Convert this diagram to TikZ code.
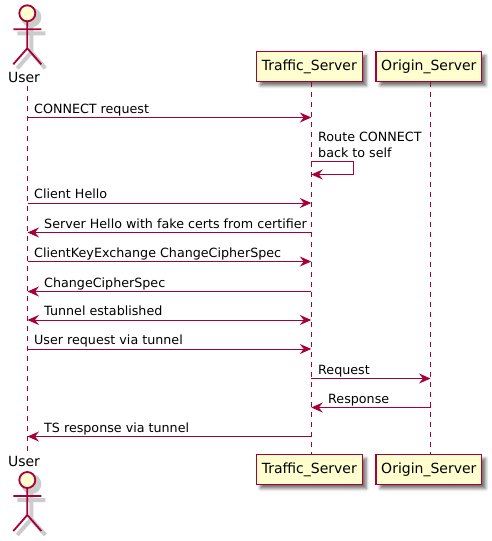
\documentclass[tikz,border=0pt]{standalone}
\usepackage{fontspec}
\setmainfont{DejaVu Sans}
\usetikzlibrary{positioning, calc, shadows.blur, arrows.meta}
\definecolor{umlred}{HTML}{A80036}
\definecolor{umlfill}{HTML}{FEFECE}

\tikzset{
  actor/.pic={
    \draw[black!20, line width=4pt, fill=black!20] (4,-15) circle (8);
    \draw[black!20, line width=4pt] (4,-7) -- (4,20) (-10,1) -- (18,1) (-10,36) -- (4,20) -- (18,36);
    \draw[actorline, fill=umlfill] (0,-19) circle (8);
    \draw[actorline] (0,-11) -- (0,16) (-14,-3) -- (14,-3) (-14,32) -- (0,16) -- (14,32);
  }
}

\begin{document}
\begin{tikzpicture}[
  x=1pt, y=-1pt,
  font=\fontsize{12.7}{16}\selectfont,
  actorline/.style={draw=umlred, line width=1.8pt},
  participant/.style={rectangle, draw=umlred, line width=1.3pt, fill=umlfill, minimum height=30pt, minimum width=106pt, inner sep=0pt,
    font=\fontsize{14}{16}\selectfont,
    blur shadow={shadow xshift=4pt, shadow yshift=-4pt, shadow blur radius=3pt, shadow opacity=55}},
  origin_part/.style={participant, minimum width=105.5pt},
  lifeline/.style={draw=umlred, line width=1pt, dash pattern=on 5pt off 5pt},
  msg/.style={draw=umlred, line width=1pt, -{Stealth[length=11.5pt, width=10pt, inset=4pt]}},
  msgboth/.style={msg, {Stealth[length=11.5pt, width=10pt, inset=4pt]}-{Stealth[length=11.5pt, width=10pt, inset=4pt]}},
  actorlabel/.style={inner sep=0pt, font=\fontsize{14}{16}\selectfont},
  label/.style={anchor=base west, inner sep=0pt}
]
    \useasboundingbox (0,0) rectangle (491,541);

    % Participants
    \node[participant] (ts) at (309.3,66.7) {Traffic\_Server};
    \node[origin_part, right=12.5pt of ts] (os) {Origin\_Server};
    \node[participant, below=371.5pt of ts] (tsb) {Traffic\_Server};
    \node[origin_part, below=371.5pt of os] (osb) {Origin\_Server};

    % Actors
    \pic at (27.3,32.3) {actor};
    \node[actorlabel] (user) at (24,77.5) {User};
    \pic at (27.3,499) {actor};
    \node[actorlabel] (userb) at (24,461.5) {User};

    % Lifelines
    \coordinate (utop) at (27.5,86);
    \coordinate (ubot) at (27.5,451);
    \coordinate (ttop) at ([xshift=2pt]ts.south);
    \coordinate (tbot) at ([xshift=2pt]tsb.north);
    \coordinate (otop) at ([xshift=1.7pt]os.south);
    \coordinate (obot) at ([xshift=1.7pt]osb.north);
    \draw[lifeline] (utop) -- (ubot);
    \draw[lifeline] (ttop) -- (tbot);
    \draw[lifeline] (otop) -- (obot);

    % Message rows
    \coordinate (r1) at (0,117.5);
    \coordinate (r2a) at (0,161.5);
    \coordinate (r2b) at (0,174.5);
    \coordinate (r3) at (0,203);
    \coordinate (r4) at (0,232.5);
    \coordinate (r5) at (0,261.5);
    \coordinate (r6) at (0,291.5);
    \coordinate (r7) at (0,320);
    \coordinate (r8) at (0,349);
    \coordinate (r9) at (0,378.5);
    \coordinate (r10) at (0,407.5);
    \coordinate (r11) at (0,436.5);
    \coordinate (selfa) at (353,161.5);
    \coordinate (selfb) at (353,174.5);

    % Messages
    \draw[msg] (utop |- r1) -- (ttop |- r1);
    \draw[msg] (ttop |- r2a) -- (selfa) -- (selfb) -- (ttop |- r2b);
    \draw[msg] (utop |- r3) -- (ttop |- r3);
    \draw[msg] (ttop |- r4) -- (utop |- r4);
    \draw[msg] (utop |- r5) -- (ttop |- r5);
    \draw[msg] (ttop |- r6) -- (utop |- r6);
    \draw[msgboth] (utop |- r7) -- (ttop |- r7);
    \draw[msg] (utop |- r8) -- (ttop |- r8);
    \draw[msg] (ttop |- r9) -- (otop |- r9);
    \draw[msg] (otop |- r10) -- (ttop |- r10);
    \draw[msg] (ttop |- r11) -- (utop |- r11);

    % Message labels
    \node[label] (l1) at (34,113) {CONNECT request};
    \node[label] (l2a) at (318,141) {Route CONNECT};
    \node[label] (l2b) at (318,157) {back to self};
    \node[label] (l3) at (34,198.5) {Client Hello};
    \node[label] (l4) at (44,228) {Server Hello with fake certs from certifier};
    \node[label] (l5) at (34,257) {ClientKeyExchange ChangeCipherSpec};
    \node[label] (l6) at (44,287) {ChangeCipherSpec};
    \node[label] (l7) at (44,315.5) {Tunnel established};
    \node[label] (l8) at (34,344.5) {User request via tunnel};
    \node[label] (l9) at (318,374) {Request};
    \node[label] (l10) at (328,403) {Response};
    \node[label] (l11) at (44,432) {TS response via tunnel};

\end{tikzpicture}
\end{document}
